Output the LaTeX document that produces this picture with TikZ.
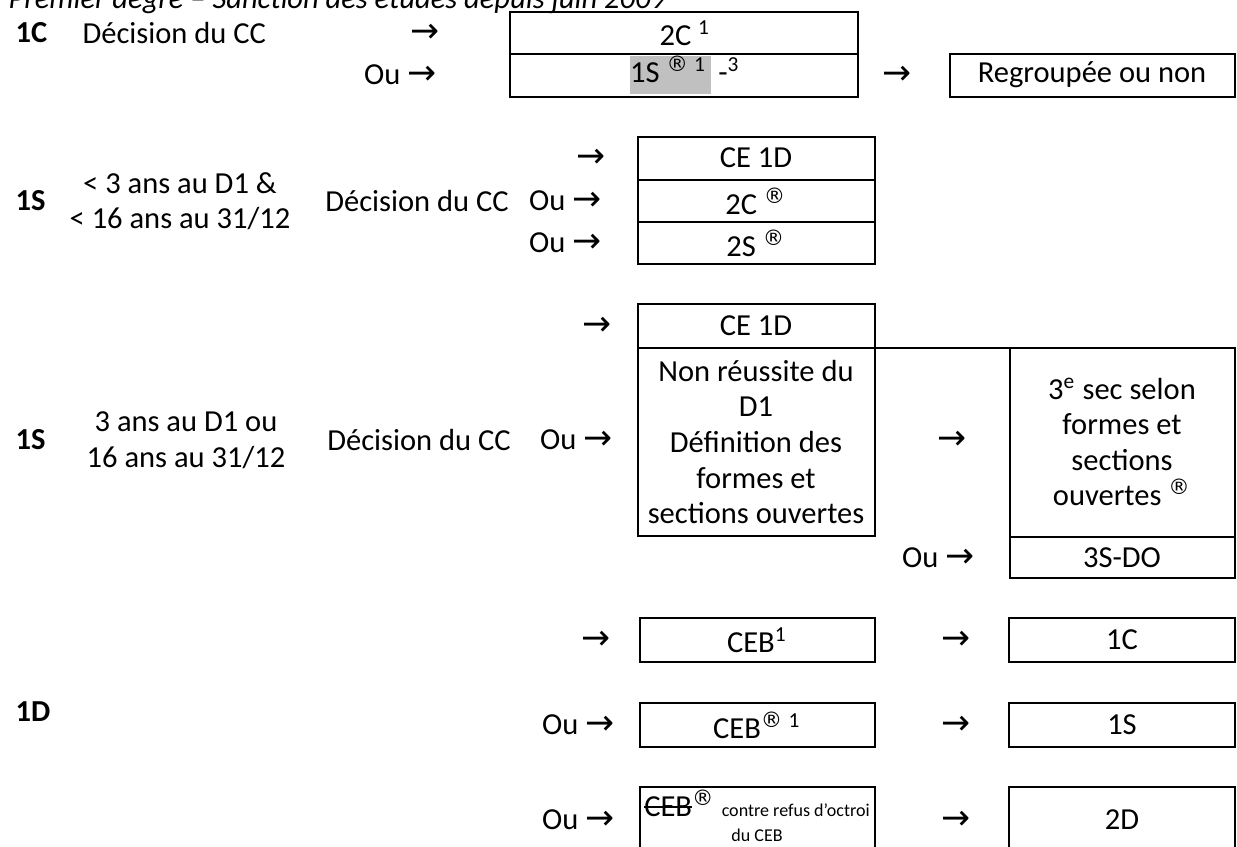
\documentclass[tikz,border=0pt]{standalone}
\usepackage{fontspec}
\setmainfont{Carlito}
\newfontfamily\symfont{DejaVu Sans}
\usepackage{tikz}
\usetikzlibrary{positioning}
\definecolor{surligne}{RGB}{192,192,192}
\newcommand{\fleche}{{\symfont\fontsize{12.5}{12}\selectfont →}}
\newcommand{\marque}{\textsuperscript{\symfont ®}}
\newcommand{\barre}[1]{\setbox0\hbox{#1}\rlap{\rule[0.3em]{\wd0}{0.5pt}}\box0}

\begin{document}
\begin{tikzpicture}[x=0.01266cm, y=-0.01266cm,
    txt/.style={inner sep=0pt, font=\fontsize{11}{12.8}\selectfont, align=center},
    lbl/.style={txt, font=\fontsize{11}{12.8}\selectfont\bfseries, anchor=west},
    small/.style={txt, font=\fontsize{6.5}{7.5}\selectfont},
    cell/.style={line width=0.6pt}]
    \useasboundingbox (0,0) rectangle (1237,847);
    \node[txt, anchor=base west] (titre) at (8,9) {\itshape Premier degré – Sanction des études depuis juin 2009};

    % 1C
    \node[lbl] (c1) at (15,33) {1C}; \node[txt, anchor=west] (c1dec) at (82,33) {Décision du CC};
    \draw[cell] (510,12) rectangle (858,54); \draw[cell] (510,54) rectangle (858,97);
    \draw[cell] (950,54) rectangle (1235,97);
    \node[txt] (c1a) at (685,33) {2C \textsuperscript{1}};
    \node[txt] (c1b) at (685,75) {{\fboxsep=0pt\colorbox{surligne}{\strut 1S \marque\textsuperscript{ 1}\,}} -\textsuperscript{3}};
    \node[txt] (c1c) at (1092,75) {Regroupée ou non};

    % 1S, moins de 3 ans
    \node[lbl] (s1) at (15,201) {1S};
    \node[txt] (s1age) at (180,201) {< 3 ans au D1 \&\\< 16 ans au 31/12};
    \node[txt] (s1dec) at (417,201) {Décision du CC};
    \draw[cell] (638,137) rectangle (875,180); \draw[cell] (638,180) rectangle (875,222); \draw[cell] (638,222) rectangle (875,264);
    \node[txt] (s1a) at (756,158) {CE 1D}; \node[txt] (s1b) at (756,201) {2C \marque}; \node[txt] (s1c) at (756,243) {2S \marque};

    % 1S, 3 ans ou 16 ans
    \node[lbl] (s2) at (15,440) {1S};
    \node[txt] (s2age) at (186,440) {3 ans au D1 ou\\16 ans au 31/12};
    \node[txt] (s2dec) at (419,440) {Décision du CC};
    \draw[cell] (638,304) rectangle (875,348); \draw[cell] (638,348) rectangle (875,536);
    \draw[cell] (875,348) -- (1010,348);
    \draw[cell] (1010,348) rectangle (1235,537); \draw[cell] (1010,537) rectangle (1235,578);
    \node[txt] (s2a) at (756,326) {CE 1D};
    \node[txt] (s2b) at (756,442) {Non réussite du\\D1\\Définition des\\formes et\\sections ouvertes};
    \node[txt] (s2c) at (1122,442) {3\textsuperscript{e} sec selon\\formes et\\sections\\ouvertes \marque};
    \node[txt] (s2d) at (1122,558) {3S-DO};

    % 1D
    \node[lbl] (d1) at (15,712) {1D};
    \foreach \y in {618, 703} {
        \draw[cell] (640,\y) rectangle (875,\y+44);
        \draw[cell] (1009,\y) rectangle (1235,\y+44);
    }
    \draw[cell] (640,870) |- (875,787) -- (875,870); \draw[cell] (1009,870) |- (1235,787) -- (1235,870);
    \node[txt] (da) at (757,640) {CEB\textsuperscript{1}}; \node[txt] (d2a) at (1122,640) {1C};
    \node[txt] (db) at (757,725) {CEB\marque\textsuperscript{ 1}}; \node[txt] (d2b) at (1122,725) {1S};
    \node[txt, anchor=base] (dc) at (757,817) {\barre{CEB}\marque\ {\fontsize{6.5}{7.5}\selectfont contre refus d’octroi}};
    \node[small, anchor=base] (dc2) at (757,842) {du CEB};
    \node[txt] (d2c) at (1122,820) {2D};

    % fleches
    \foreach \x/\y/\n in {425/33/f1, 897/75/f2, 591/158/f3, 597/326/f4, 952/440/f5, 596/640/f6, 956/640/f7, 956/725/f8, 956/820/f9}
        \node[txt] (\n) at (\x,\y) {\fleche};
    \foreach \x/\y/\n in {437/75/o1, 602/201/o2, 602/243/o3, 613/440/o4, 975/558/o5, 615/725/o6, 615/820/o7}
        \node[txt, anchor=east] (\n) at (\x,\y) {Ou \fleche};
\end{tikzpicture}
\end{document}
